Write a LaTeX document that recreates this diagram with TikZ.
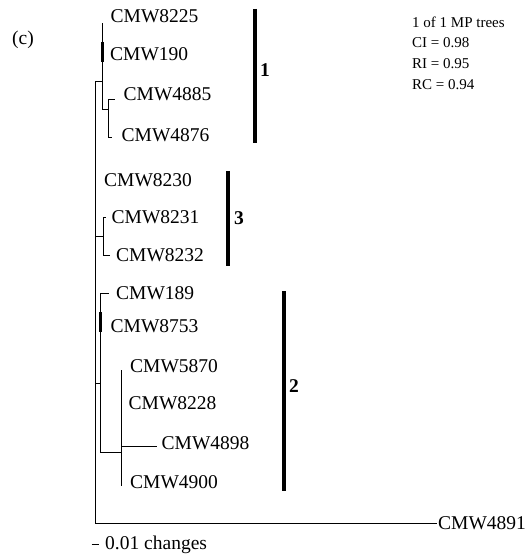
\documentclass[tikz,border=0pt]{standalone}
\usepackage{fontspec}
\setmainfont{Liberation Serif}
\begin{document}
\begin{tikzpicture}[x=1bp,y=-1bp,
  br/.style={line width=1bp},
  zl/.style={line width=2.6bp},
  bar/.style={line width=4bp},
  lab/.style={anchor=west,inner sep=0pt,font=\fontsize{19.5bp}{22bp}\selectfont},
  num/.style={anchor=west,inner sep=0pt,font=\fontsize{19.5bp}{22bp}\selectfont\bfseries},
  info/.style={anchor=west,inner sep=0pt,font=\fontsize{15bp}{18bp}\selectfont}]
\useasboundingbox (0,0) rectangle (529,557);

% internal nodes and tips
\coordinate (R) at (95,300);
\coordinate (A) at (102.5,82);
\coordinate (t8225) at (102.5,23);
\coordinate (z190a) at (102.5,42);
\coordinate (z190b) at (102.5,62);
\coordinate (E) at (108,110);
\coordinate (t4885) at (115,100);
\coordinate (t4876) at (112,138);
\coordinate (H) at (103.5,236);
\coordinate (t8231) at (106,217);
\coordinate (t8232) at (110,255);
\coordinate (F) at (100.5,383);
\coordinate (t189) at (108.5,293);
\coordinate (z8753a) at (100.5,312);
\coordinate (z8753b) at (100.5,332);
\coordinate (G) at (121,452);
\coordinate (t5870) at (121,370);
\coordinate (t4900) at (121,486);
\coordinate (t4898) at (157,446);
\coordinate (t4891) at (437,523);

% branches
\draw[br] (R) |- (A);
\draw[br] (R) |- (t4891);
\draw[br] (R) |- (H);
\draw[br] (R) |- (F);
\draw[br] (A) -- (t8225);
\draw[zl] (z190a) -- (z190b);
\draw[br] (A) |- (E);
\draw[br] (E) |- (t4885);
\draw[br] (E) |- (t4876);
\draw[br] (H) |- (t8231);
\draw[br] (H) |- (t8232);
\draw[br] (F) |- (t189);
\draw[zl] (z8753a) -- (z8753b);
\draw[br] (F) |- (G);
\draw[br] (G) -- (t5870);
\draw[br] (G) -- (t4900);
\draw[br] (G) |- (t4898);

% tip labels
\node[lab] (l8225) at (110.5,16.5) {CMW8225};
\node[lab] (l190)  at (110,54) {CMW190};
\node[lab] (l4885) at (123.5,94) {CMW4885};
\node[lab] (l4876) at (121.5,135) {CMW4876};
\node[lab] (l8230) at (104,180.5) {CMW8230};
\node[lab] (l8231) at (111.5,217) {CMW8231};
\node[lab] (l8232) at (116,255.5) {CMW8232};
\node[lab] (l189)  at (116,293) {CMW189};
\node[lab] (l8753) at (110.5,326) {CMW8753};
\node[lab] (l5870) at (130,366) {CMW5870};
\node[lab] (l8228) at (128.5,403) {CMW8228};
\node[lab] (l4898) at (161.5,443) {CMW4898};
\node[lab] (l4900) at (130,482) {CMW4900};
\node[lab] (l4891) at (438,523) {CMW4891};

% cluster bars
\coordinate (b1a) at (255,9);   \coordinate (b1b) at (255,143);
\coordinate (b3a) at (227.7,171); \coordinate (b3b) at (227.7,266);
\coordinate (b2a) at (284,291); \coordinate (b2b) at (284,491);
\draw[bar] (b1a) -- (b1b);
\draw[bar] (b3a) -- (b3b);
\draw[bar] (b2a) -- (b2b);
\node[num] (n1) at (260,70) {1};
\node[num] (n3) at (234,218) {3};
\node[num] (n2) at (289,386) {2};

% panel label and statistics
\node[lab] (panel) at (12,40) {(c)};
\node[info] (i1) at (412,22) {1 of 1 MP trees};
\node[info] (i2) at (412,43) {CI = 0.98};
\node[info] (i3) at (412,64) {RI = 0.95};
\node[info] (i4) at (412,85) {RC = 0.94};

% scale bar
\coordinate (sa) at (91.7,544);
\coordinate (sb) at (99.3,544);
\draw[br] (sa) -- (sb);
\node[lab] (scale) at (105,545) {0.01 changes};
\end{tikzpicture}
\end{document}
